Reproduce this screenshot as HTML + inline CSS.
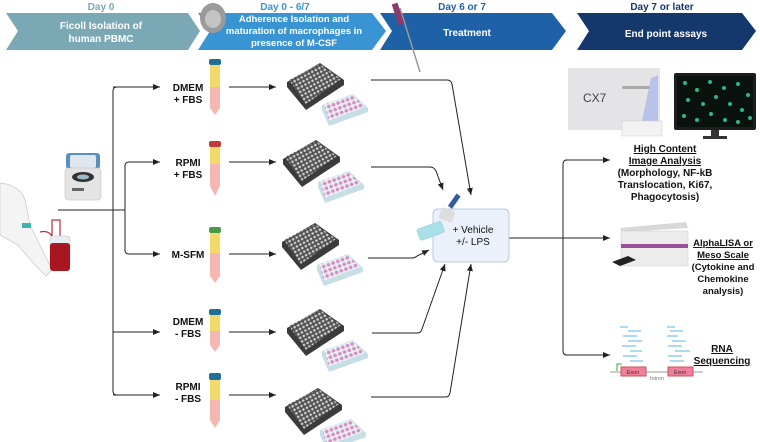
<!DOCTYPE html>
<html><head><meta charset="utf-8"><style>
body{margin:0;background:#fff}
svg{display:block}
text{font-family:"Liberation Sans",sans-serif}
.b{font-weight:bold}
</style></head><body>
<svg width="760" height="442" viewBox="0 0 760 442" xmlns="http://www.w3.org/2000/svg">
<defs>
<marker id="a" markerWidth="8" markerHeight="8" refX="7" refY="4" orient="auto" markerUnits="userSpaceOnUse"><path d="M0,1 L7,4 L0,7 Z" fill="#222"/></marker>
<pattern id="dots" width="4" height="4" patternUnits="userSpaceOnUse" patternTransform="rotate(-28)"><rect width="4" height="4" fill="#505050"/><circle cx="2" cy="2" r="1.3" fill="#cfcfcf"/></pattern>
<pattern id="pk" width="5" height="5" patternUnits="userSpaceOnUse" patternTransform="rotate(-20)"><rect width="5" height="5" fill="#e6f1f4"/><circle cx="2.5" cy="2.5" r="1.8" fill="#d98bc0"/></pattern>
<g id="plates">
 <polygon points="287,82 320,63 344,80 344,85 306,110 287,87" fill="#3b3b3b"/>
 <polygon points="289,80 320,64 341,79 306,104" fill="url(#dots)"/>
 <polygon points="322,105 353,94 368,108 368,112 329,126 322,110" fill="#c5dfe5"/>
 <polygon points="324,104 353,95 365,107 329,121" fill="url(#pk)"/>
</g>
</defs>

<polygon points="6,13 188,13 200,31 188,50 6,50 18,31" fill="#7aa9b5"/>
<polygon points="198,13 372,13 386,31 372,50 198,50 210,31" fill="#3a94d4"/>
<polygon points="380,13 552,13 566,31 552,50 380,50 392,31" fill="#1f61a7"/>
<polygon points="577,13 742,13 756,31 742,50 577,50 589,31" fill="#15386c"/>
<text x="101" y="10" font-size="10" fill="#7aa9b5" text-anchor="middle" class="b">Day 0</text>
<text x="285" y="10" font-size="10" fill="#3a94d4" text-anchor="middle" class="b">Day 0 - 6/7</text>
<text x="462" y="10" font-size="10" fill="#1f61a7" text-anchor="middle" class="b">Day 6 or 7</text>
<text x="662" y="10" font-size="10" fill="#15386c" text-anchor="middle" class="b">Day 7 or later</text>
<text x="101" y="29" font-size="10" fill="#fff" text-anchor="middle" class="b">Ficoll Isolation of</text>
<text x="101" y="42" font-size="10" fill="#fff" text-anchor="middle" class="b">human PBMC</text>
<text x="294" y="22" font-size="9.5" fill="#fff" text-anchor="middle" class="b">Adherence Isolation and</text>
<text x="294" y="34" font-size="9.5" fill="#fff" text-anchor="middle" class="b">maturation of macrophages in</text>
<text x="294" y="46" font-size="9.5" fill="#fff" text-anchor="middle" class="b">presence of M-CSF</text>
<text x="467" y="36" font-size="10" fill="#fff" text-anchor="middle" class="b">Treatment</text>
<text x="666" y="37" font-size="10" fill="#fff" text-anchor="middle" class="b">End point assays</text>
<ellipse cx="213" cy="18" rx="13" ry="15" fill="#9a9a9a"/><ellipse cx="213" cy="19" rx="8" ry="9" fill="#c4c4c4"/>
<line x1="400" y1="8" x2="420" y2="72" stroke="#999" stroke-width="1.5"/><rect x="395" y="3" width="6" height="22" fill="#8a3a6a" transform="rotate(-18 398 14)"/>

<path d="M0,183 Q20,185 25,200 L30,225 Q45,255 52,270 L46,276 Q30,260 18,245 L0,235 Z" fill="#f4f4f4" stroke="#ccc" stroke-width="0.8"/>
<rect x="22" y="223" width="9" height="5" fill="#3bb4ab"/>
<path d="M40,232 Q48,230 52,236 L52,220 L60,220 L60,236" fill="none" stroke="#c02a3a" stroke-width="1.2"/>
<rect x="50" y="236" width="20" height="32" rx="3" fill="#e8edf2" stroke="#bbb" stroke-width="0.6"/>
<rect x="50" y="243" width="20" height="28" rx="3" fill="#a8161f"/>
<rect x="66" y="153" width="34" height="16" rx="3" fill="#5b8fc4"/><rect x="70" y="155" width="26" height="13" rx="2" fill="#dfe6ee"/>
<rect x="65" y="168" width="36" height="32" rx="3" fill="#e4e4e4" stroke="#bbb" stroke-width="0.5"/>
<ellipse cx="83" cy="177" rx="11" ry="5" fill="#333"/><ellipse cx="83" cy="177" rx="6" ry="2.5" fill="#9bc"/>
<rect x="72" y="188" width="12" height="3" fill="#666"/>

<g fill="none" stroke="#222" stroke-width="1">
<line x1="58" y1="210" x2="125" y2="210"/>
<path d="M160,87 L117,87 Q113,87 113,91 L113,391 Q113,395 117,395 L160,395"/>
<line x1="113" y1="87" x2="160" y2="87" marker-end="url(#a)"/>
<path d="M160,162 L129,162 Q125,162 125,166 L125,250 Q125,254 129,254 L160,254"/>
<line x1="129" y1="162" x2="160" y2="162" marker-end="url(#a)"/>
<line x1="129" y1="254" x2="160" y2="254" marker-end="url(#a)"/>
<line x1="113" y1="332" x2="160" y2="332" marker-end="url(#a)"/>
<line x1="113" y1="395" x2="160" y2="395" marker-end="url(#a)"/>
<line x1="229" y1="87" x2="276" y2="87" marker-end="url(#a)"/>
<line x1="229" y1="162" x2="276" y2="162" marker-end="url(#a)"/>
<line x1="229" y1="254" x2="276" y2="254" marker-end="url(#a)"/>
<line x1="229" y1="332" x2="276" y2="332" marker-end="url(#a)"/>
<line x1="229" y1="395" x2="276" y2="395" marker-end="url(#a)"/>
<path d="M371,80 L447,80 Q451,80 452,84 L471,195" marker-end="url(#a)"/>
<path d="M371,167 L430,167 Q434,167 436,171 L443,190" marker-end="url(#a)"/>
<path d="M368,258 L412,258 Q415,258 417,256 L429,250" marker-end="url(#a)"/>
<path d="M372,333 L417,333 Q421,333 422,329 L445,264" marker-end="url(#a)"/>
<path d="M371,397 L446,397 Q449,397 450,393 L471,264" marker-end="url(#a)"/>
<line x1="509" y1="238" x2="563" y2="238"/>
<path d="M608,160 L567,160 Q563,160 563,164 L563,351 Q563,355 567,355 L608,355"/>
<line x1="565" y1="160" x2="610" y2="160" marker-end="url(#a)"/>
<line x1="563" y1="238" x2="610" y2="238" marker-end="url(#a)"/>
<line x1="565" y1="355" x2="610" y2="355" marker-end="url(#a)"/>
</g>

<g font-size="10" class="b" text-anchor="middle" fill="#111">
<text x="188" y="91" class="b">DMEM</text><text x="188" y="103" class="b">+ FBS</text>
<text x="188" y="166" class="b">RPMI</text><text x="188" y="178" class="b">+ FBS</text>
<text x="188" y="258" class="b">M-SFM</text>
<text x="188" y="325" class="b">DMEM</text><text x="188" y="337" class="b">- FBS</text>
<text x="188" y="390" class="b">RPMI</text><text x="188" y="402" class="b">- FBS</text>
</g>

<rect x="209" y="59" width="12" height="6" rx="2" fill="#1f6f96"/><rect x="210" y="65" width="10" height="22" fill="#f3d86b"/><path d="M210,87 L220,87 L220,108 L215,115 L210,108 Z" fill="#f4b8b3"/>
<rect x="209" y="141" width="12" height="6" rx="2" fill="#c43a3a"/><rect x="210" y="147" width="10" height="17" fill="#f3d86b"/><path d="M210,164 L220,164 L220,186 L215,196 L210,186 Z" fill="#f4b8b3"/>
<rect x="209" y="227" width="12" height="6" rx="2" fill="#4a9a48"/><rect x="210" y="233" width="10" height="20" fill="#f3d86b"/><path d="M210,253 L220,253 L220,276 L215,283 L210,276 Z" fill="#f4b8b3"/>
<rect x="209" y="309" width="12" height="6" rx="2" fill="#1f6f96"/><rect x="210" y="315" width="10" height="16" fill="#f3d86b"/><path d="M210,331 L220,331 L220,345 L215,352 L210,345 Z" fill="#f4b8b3"/>
<rect x="209" y="373" width="12" height="7" rx="2" fill="#1f6f96"/><rect x="210" y="380" width="10" height="20" fill="#f3d86b"/><path d="M210,400 L220,400 L220,420 L215,428 L210,420 Z" fill="#f4b8b3"/>

<use href="#plates"/>
<use href="#plates" transform="translate(-4,77)"/>
<use href="#plates" transform="translate(-5,160)"/>
<use href="#plates" transform="translate(0,246)"/>
<use href="#plates" transform="translate(-2,325)"/>

<rect x="433" y="209" width="76" height="53" rx="5" fill="#eaf1fb" stroke="#b9c8dd"/>
<text x="473" y="233" font-size="10" text-anchor="middle" fill="#111">+ Vehicle</text>
<text x="473" y="245" font-size="10" text-anchor="middle" fill="#111">+/- LPS</text>
<g transform="rotate(-20 430 232)"><rect x="418" y="225" width="26" height="12" rx="2" fill="#a8dfe8" stroke="#9cc" stroke-width="0.5"/></g>
<rect x="440" y="209" width="14" height="12" rx="2" fill="#ddd" transform="rotate(20 447 215)"/>
<rect x="452" y="194" width="5" height="15" fill="#2e5f9a" transform="rotate(35 455 201)"/>

<rect x="568" y="68" width="92" height="62" fill="#e4e4e6"/>
<polygon points="651,78 658,75 658,130 640,130" fill="#b9c3ea"/>
<rect x="622" y="86" width="28" height="3" rx="1.5" fill="#aaa"/>
<text x="583" y="102" font-size="12" fill="#444">CX7</text>
<rect x="622" y="121" width="40" height="15" fill="#f2f2f2" stroke="#ccc" stroke-width="0.5"/>
<rect x="674" y="73" width="82" height="57" rx="2" fill="#1d1d1d"/>
<rect x="677" y="76" width="76" height="51" fill="#0a120e"/>
<g fill="#2db58c">
<circle cx="685" cy="83" r="2"/><circle cx="697" cy="90" r="2"/><circle cx="710" cy="82" r="2"/><circle cx="724" cy="88" r="2"/><circle cx="738" cy="84" r="2"/><circle cx="748" cy="95" r="2"/>
<circle cx="688" cy="100" r="2"/><circle cx="703" cy="104" r="2"/><circle cx="716" cy="97" r="2"/><circle cx="730" cy="104" r="2"/><circle cx="742" cy="110" r="2"/>
<circle cx="684" cy="116" r="2"/><circle cx="697" cy="120" r="2"/><circle cx="711" cy="114" r="2"/><circle cx="725" cy="120" r="2"/><circle cx="738" cy="122" r="2"/><circle cx="750" cy="118" r="2"/>
</g>
<rect x="711" y="130" width="8" height="6" fill="#333"/><rect x="703" y="136" width="24" height="3" fill="#333"/>
<g font-size="10" class="b" text-anchor="middle" fill="#111">
<text x="665" y="152" text-decoration="underline">High Content</text>
<text x="665" y="164" text-decoration="underline">Image Analysis</text>
<text x="665" y="176">(Morphology, NF-kB</text>
<text x="665" y="188">Translocation, Ki67,</text>
<text x="665" y="200">Phagocytosis)</text>
</g>

<polygon points="620,228 686,222 688,228 622,232" fill="#d8d8d8"/>
<rect x="621" y="231" width="67" height="35" fill="#ececec" stroke="#ccc" stroke-width="0.5"/>
<rect x="621" y="244" width="67" height="4" fill="#9a4f9a"/>
<polygon points="612,262 628,256 636,260 620,266" fill="#222"/>
<g font-size="9.5" class="b" text-anchor="middle" fill="#111">
<text x="723" y="246" text-decoration="underline">AlphaLISA or</text>
<text x="723" y="258" text-decoration="underline">Meso Scale</text>
<text x="723" y="270">(Cytokine and</text>
<text x="723" y="282">Chemokine</text>
<text x="723" y="294">analysis)</text>
</g>

<g stroke="#5ab6dc" stroke-width="1">
<line x1="620" y1="327" x2="628" y2="327"/><line x1="628" y1="331" x2="641" y2="331"/><line x1="623" y1="336" x2="637" y2="336"/><line x1="628" y1="341" x2="642" y2="341"/><line x1="622" y1="346" x2="636" y2="346"/><line x1="630" y1="351" x2="642" y2="351"/><line x1="623" y1="356" x2="637" y2="356"/><line x1="630" y1="361" x2="643" y2="361"/>
<line x1="667" y1="327" x2="675" y2="327"/><line x1="670" y1="331" x2="683" y2="331"/><line x1="667" y1="336" x2="678" y2="336"/><line x1="672" y1="341" x2="686" y2="341"/><line x1="668" y1="346" x2="682" y2="346"/><line x1="675" y1="351" x2="690" y2="351"/><line x1="668" y1="356" x2="682" y2="356"/><line x1="670" y1="361" x2="684" y2="361"/>
</g>
<line x1="610" y1="372" x2="703" y2="372" stroke="#777" stroke-width="0.8"/>
<path d="M617,371 L617,364 L622,364" fill="none" stroke="#3a3" stroke-width="1"/>
<rect x="621" y="367" width="25" height="9" fill="#ef7f9a" stroke="#c55"/>
<rect x="668" y="367" width="25" height="9" fill="#ef7f9a" stroke="#c55"/>
<text x="633" y="374" font-size="5.5" text-anchor="middle" fill="#333">Exon</text>
<text x="680" y="374" font-size="5.5" text-anchor="middle" fill="#333">Exon</text>
<text x="657" y="380" font-size="5.5" text-anchor="middle" fill="#777">Intron</text>
<text x="722" y="352" font-size="10" class="b" text-anchor="middle" text-decoration="underline" fill="#111">RNA</text>
<text x="722" y="364" font-size="10" class="b" text-anchor="middle" text-decoration="underline" fill="#111">Sequencing</text>
</svg>
</body></html>
